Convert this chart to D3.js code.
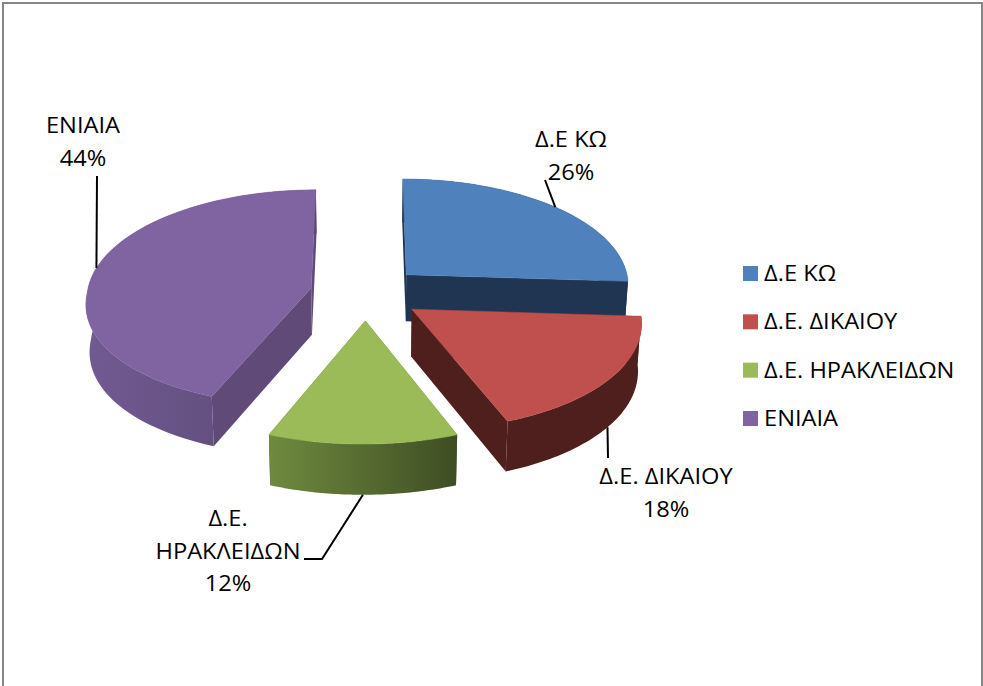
<!DOCTYPE html>
<html><head><meta charset="utf-8">
<script src="https://cdn.jsdelivr.net/npm/d3@7"></script>
<style>html,body{margin:0;padding:0;background:#fff;overflow:hidden}svg{display:block}text{font-family:"Open Sans",sans-serif;fill:#000}</style>
</head><body>
<svg id="c" width="983" height="686"></svg>
<script>
const categories = ["Δ.Ε ΚΩ","Δ.Ε. ΔΙΚΑΙΟΥ","Δ.Ε. ΗΡΑΚΛΕΙΔΩΝ","ΕΝΙΑΙΑ"];
const values = [26,18,12,44];
const topColors = ["#4f81bd","#c0504d","#9bbb59","#8064a2"];
const wallColors = ["#1f3552","#4f1f1e","#4e6229","#5f4a78"];
const arcWallLeft = ["#1f3552","#4f1f1e","#6f8a3f","#715a92"];
const arcWallRight = ["#1f3552","#4f1f1e","#3e4d24","#5a4872"];
const labelLines = [["Δ.Ε ΚΩ"],["Δ.Ε. ΔΙΚΑΙΟΥ"],["Δ.Ε.","ΗΡΑΚΛΕΙΔΩΝ"],["ΕΝΙΑΙΑ"]];

// layout
const W=983,H=686,cx=366,cy=293,rx=224,explode=0.25;
const kBack=0.085,kFront=0.12,skewFront=-2.5,a=108.7,b=9.7;
const drawOrder=[0,3,1,2];
const labelPos=[{x:571,y:147},{x:666,y:484},{x:228,y:526},{x:83,y:133}];
const labelStep=32.5;
const leaderVia=[[[545,180]],[[608,458]],[[322,559],[304,559]],[[97,176]]];

const svg=d3.select("#c");
svg.append("rect").attr("x",3).attr("y",3).attr("width",979).attr("height",H+10)
  .attr("fill","#fff").attr("stroke","#868686").attr("stroke-width",2);
const defs=svg.append("defs");

const project=(X,Y,z)=>{
  const k=Y<0?kBack:kFront;
  const sx=cx+X*rx*(1+k*Y)+skewFront*Math.max(Y,0), sy=cy+Y*(a+b*Y);
  if(!z) return [sx,sy];
  return [cx+(sx-cx)*0.987, sy+47+3*Y];
};
const pie=d3.pie().sort(null).value(d=>d)(values);
const slices=pie.map((p,i)=>{
  const mid=(p.startAngle+p.endAngle)/2;
  const ox=Math.sin(mid)*explode, oy=-Math.cos(mid)*explode;
  const world=t=>[ox+Math.sin(t),oy-Math.cos(t)];
  const ts=d3.range(0,61).map(j=>p.startAngle+(p.endAngle-p.startAngle)*j/60);
  return {i,p,mid,ox,oy,world,ts};
});
const line=d3.line();
const poly=pts=>line(pts)+"Z";

const g=svg.append("g");
drawOrder.forEach(i=>{
  const s=slices[i];
  const rimT=s.ts.map(t=>project(...s.world(t),false));
  const rimB=s.ts.map(t=>project(...s.world(t),true)).reverse();
  const gid="w"+i;
  const xs=rimT.map(d=>d[0]);
  const gr=defs.append("linearGradient").attr("id",gid).attr("gradientUnits","userSpaceOnUse")
    .attr("x1",d3.min(xs)).attr("x2",d3.max(xs)).attr("y1",0).attr("y2",0);
  gr.append("stop").attr("offset",0).attr("stop-color",arcWallLeft[i]);
  gr.append("stop").attr("offset",1).attr("stop-color",arcWallRight[i]);
  const apexT=project(s.ox,s.oy,false), apexB=project(s.ox,s.oy,true);
  [0,s.ts.length-1].forEach(e=>{
    const t=s.ts[e];
    g.append("path").attr("d",poly([apexT,project(...s.world(t),false),project(...s.world(t),true),apexB]))
      .attr("fill",wallColors[i]);
  });
  g.append("path").attr("d",poly(rimT.concat(rimB))).attr("fill",`url(#${gid})`);
  g.append("path").attr("d",poly([apexT].concat(rimT))).attr("fill",topColors[i])
    .attr("stroke",topColors[i]).attr("stroke-width",0.5);
});

// leaders: start on the rim at the slice's mid angle
slices.forEach(s=>{
  const front=-Math.cos(s.mid)>0.3;
  const st=project(...s.world(s.mid),front);
  svg.append("path").attr("d",line([st].concat(leaderVia[s.i])))
    .attr("fill","none").attr("stroke","#000").attr("stroke-width",2);
});

// labels
const fs=21.5, stretch=1.1;
slices.forEach(s=>{
  const lines=labelLines[s.i].concat([d3.format(".0f")(100*values[s.i]/d3.sum(values))+"%"]);
  lines.forEach((l,k)=>svg.append("text").attr("text-anchor","middle").attr("font-size",fs)
    .attr("transform",`translate(${labelPos[s.i].x},${labelPos[s.i].y+k*labelStep}) scale(${stretch},1)`).text(l));
});

// legend
const ly=d3.scalePoint().domain(categories).range([266,411]);
const lg=svg.append("g").selectAll("g").data(categories).join("g").attr("transform",d=>`translate(743,${ly(d)})`);
lg.append("rect").attr("width",15).attr("height",15).attr("fill",(d,i)=>topColors[i]);
lg.append("text").attr("font-size",fs).attr("transform",`translate(21,15) scale(${stretch},1)`).text(d=>d);
</script>
</body></html>
